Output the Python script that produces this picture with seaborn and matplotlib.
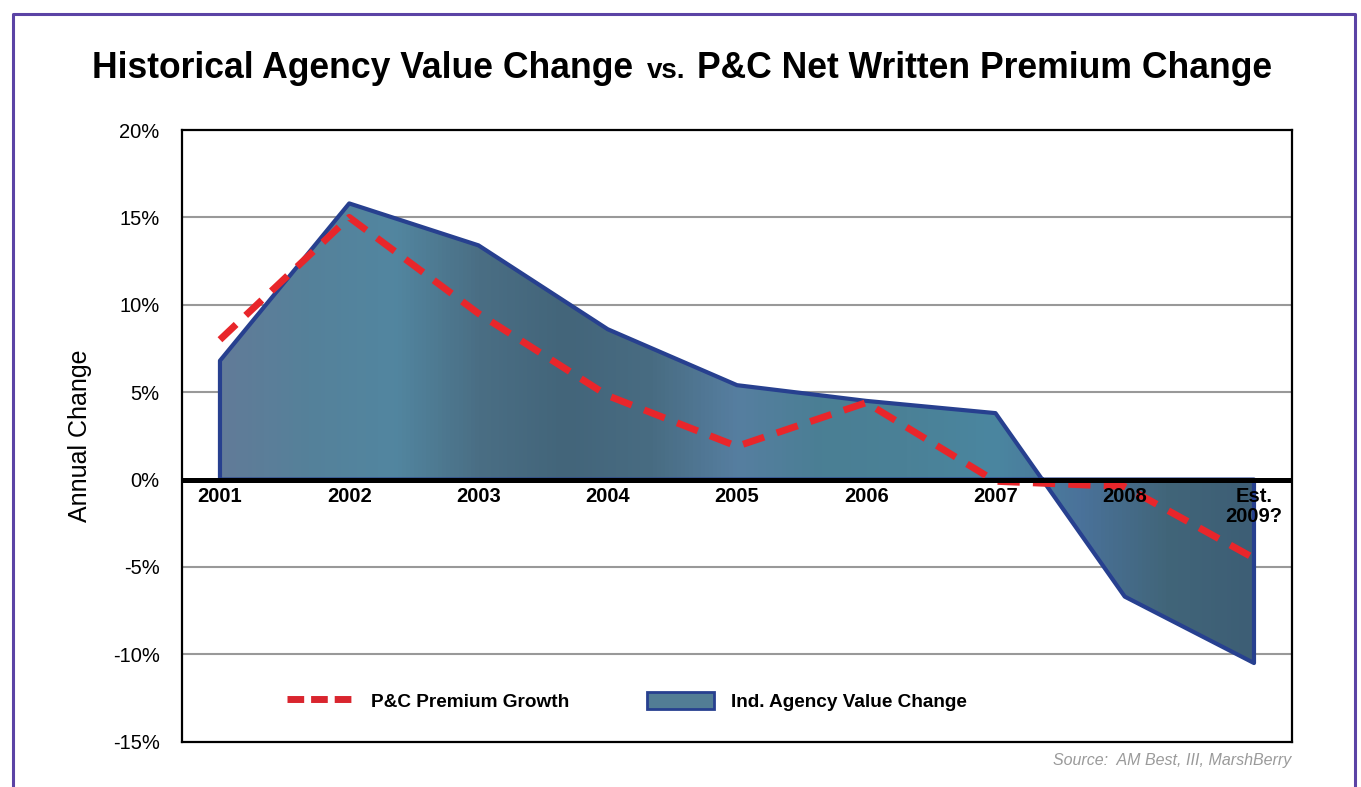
import numpy as np
import pandas as pd
import matplotlib
matplotlib.use('Agg')
import matplotlib.pyplot as plt
from matplotlib.colors import LinearSegmentedColormap
from matplotlib.lines import Line2D
from matplotlib.patches import Patch
import seaborn as sns

# ── Data ──────────────────────────────────────────────────
years = ["2001", "2002", "2003", "2004", "2005", "2006", "2007", "2008", "Est.\n2009?"]
agency_value = [6.8, 15.8, 13.4, 8.6, 5.4, 4.5, 3.8, -6.7, -10.5]
premium_growth = [8.0, 15.0, 9.5, 4.8, 1.9, 4.4, -0.1, -0.4, -4.5]

df = pd.DataFrame({"idx": np.arange(len(years)),
                   "agency": agency_value,
                   "premium": premium_growth})

# ── Styling ───────────────────────────────────────────────
sns.set_theme(style="white")
plt.rcParams["font.family"] = ["Liberation Sans", "DejaVu Sans"]
plt.rcParams.update({"text.color": "black", "axes.labelcolor": "black",
                     "ytick.color": "black", "xtick.color": "black"})

RED = "#e8262b"
EDGE = "#27408f"
fill_cmap = LinearSegmentedColormap.from_list(
    "tex", ["#627b98", "#55819a", "#5286a0", "#4a6e84", "#43657a", "#486c82",
            "#567ea0", "#4a7f94", "#4b8197", "#4a86a0", "#4a729a", "#416579", "#3d5e75"])

fig = plt.figure(figsize=(13.61, 7.87), dpi=100)
ax = fig.add_axes([0.1337, 0.0576, 0.9493 - 0.1337, 0.8348 - 0.0576])

# area (agency value change) with textured gradient
fill = ax.fill_between(df["idx"], df["agency"], 0, facecolor="none",
                       edgecolor=EDGE, linewidth=3, zorder=3)
grad = np.linspace(0, 1, 256).reshape(1, -1)
im = ax.imshow(grad, cmap=fill_cmap, aspect="auto",
               extent=[df["idx"].min(), df["idx"].max(), -20, 20], zorder=2)
im.set_clip_path(fill.get_paths()[0], transform=ax.transData)

# premium growth dashed line
sns.lineplot(data=df, x="idx", y="premium", ax=ax, color=RED, linewidth=5,
             zorder=4)
ax.lines[-1].set_dashes((3.2, 1.9))
ax.lines[-1].set_solid_capstyle("butt")

# grid & zero line
for yv in [-10, -5, 5, 10, 15]:
    ax.axhline(yv, color="#999999", linewidth=1.5, zorder=1)
ax.axhline(0, color="black", linewidth=3.6, zorder=5)

ax.set_xlim(-0.294, 8.294)
ax.set_ylim(-15, 20)
ax.set_yticks(np.arange(-15, 21, 5))
ax.set_yticklabels([f"{v}%" for v in range(-15, 21, 5)], fontsize=14.5)
ax.tick_params(axis="y", length=0, pad=16)
ax.set_xticks([])
ax.set_xlabel("")
ax.set_ylabel("Annual Change", fontsize=18, labelpad=15)
for s in ax.spines.values():
    s.set_color("black")
    s.set_linewidth(1.6)

# year labels sitting under the zero line
for i, lab in enumerate(years):
    ax.text(i, -0.45, lab, ha="center", va="top", fontsize=14.5,
            fontweight="bold", linespacing=1.05, zorder=6)

# legend
h_line = Line2D([], [], color="#d9252e", linewidth=5, dashes=(2.4, 1.0),
                solid_capstyle="butt")
h_patch = Patch(facecolor="#527d95", edgecolor=EDGE, linewidth=2)
leg = ax.legend([h_line, h_patch], ["P&C Premium Growth", "Ind. Agency Value Change"],
                loc="center left", bbox_to_anchor=(0.095, 0.066), ncol=2,
                frameon=False, borderpad=0, borderaxespad=0,
                handlelength=3.5, handleheight=1.05, handletextpad=0.9,
                columnspacing=4.1, prop={"weight": "bold", "size": 13.7})

# title (mixed sizes)
ty = 1 - 78 / 787
fig.text(92 / 1361, ty, "Historical Agency Value Change", fontsize=25.6,
         fontweight="bold", ha="left", va="baseline")
fig.text(647 / 1361, ty, "vs.", fontsize=20, fontweight="bold",
         ha="left", va="baseline")
fig.text(1272 / 1361, ty, "P&C Net Written Premium Change", fontsize=25.6,
         fontweight="bold", ha="right", va="baseline")

fig.text(1291 / 1361, 1 - 761 / 787, "Source:  AM Best, III, MarshBerry",
         fontsize=11.5, style="italic", color="#9a9a9a", ha="right", va="center")

# purple page frame
PURPLE = "#5b43a5"
fx0, fx1, fy1 = 13 / 1361, 1355 / 1361, 1 - 14 / 787
fig.add_artist(Line2D([fx0, fx0, fx1, fx1], [-0.05, fy1, fy1, -0.05],
                      color=PURPLE, linewidth=2.2, transform=fig.transFigure))

fig.savefig("out.png", dpi=100)
plt.close()
